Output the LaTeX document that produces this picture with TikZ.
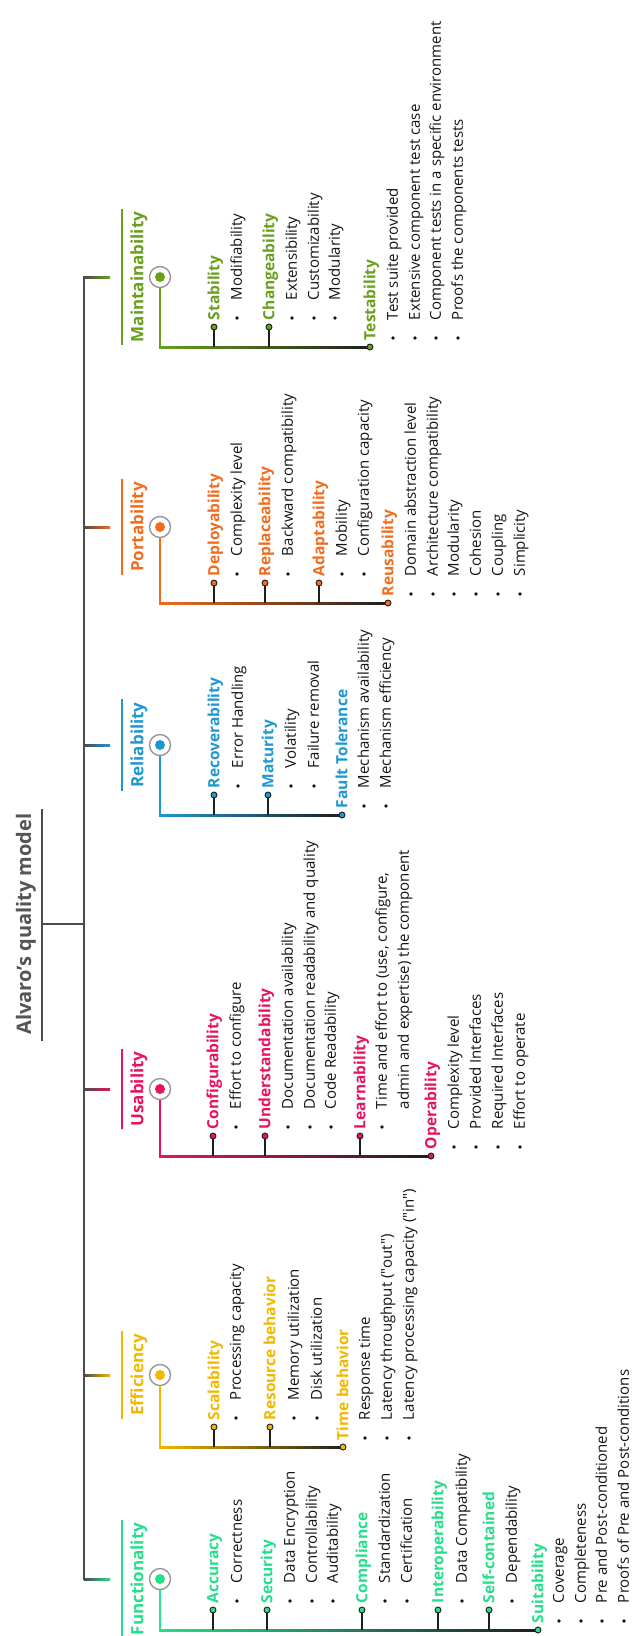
\documentclass[tikz,border=0pt]{standalone}
\usepackage{fontspec}
\setmainfont{Open Sans}
\usetikzlibrary{calc}
\definecolor{cfun}{RGB}{38,222,140}
\definecolor{ceff}{RGB}{242,184,0}
\definecolor{cusa}{RGB}{232,18,96}
\definecolor{crel}{RGB}{30,152,210}
\definecolor{cpor}{RGB}{242,108,30}
\definecolor{cmai}{RGB}{104,160,30}
\definecolor{trunkc}{RGB}{75,75,75}
\definecolor{darkc}{RGB}{30,30,30}
\definecolor{ringc}{RGB}{150,150,150}
\definecolor{titlec}{RGB}{85,85,85}
\definecolor{txtc}{RGB}{20,20,20}
\tikzset{
  rot/.style={rotate=90, inner sep=0pt, outer sep=0pt},
  maintitle/.style={rot, font=\fontsize{20}{20}\selectfont\bfseries, text=titlec, text height=14pt, text depth=2pt},
  btitle/.style={rot, font=\fontsize{17}{17}\selectfont\bfseries, text height=12pt, text depth=1.5pt},
  sublab/.style={rot, anchor=west, font=\fontsize{15.5}{15.5}\selectfont\bfseries, text height=11.5pt, text depth=1pt},
  itemtxt/.style={rot, anchor=west, font=\fontsize{15}{15}\selectfont, text=txtc, text height=10.5pt, text depth=1pt},
  ring/.style={circle, draw=ringc, line width=1.4pt, fill=white, minimum size=21pt, inner sep=0pt},
  sdot/.style={circle, draw=darkc, line width=0.9pt, minimum size=6pt, inner sep=0pt},
  stemline/.style={draw=darkc, line width=1.8pt},
  trunkline/.style={draw=trunkc, line width=2.8pt, line cap=rect},
}
\newcommand{\qd}{\textquotedbl}
% id, x, line y, color, label
\newcommand{\stemit}[5]{%
  \coordinate (#1-b) at (#2,#3);
  \node[sdot, fill=#4] (#1-d) at (#2,#3-20) {};
  \draw[stemline] (#1-b) -- (#1-d.south);
  \node[sublab, text=#4] (#1) at (#2,#3-27) {#5};
}
\newcommand{\lastit}[5]{%
  \node[sdot, fill=#4] (#1-d) at (#2,#3) {};
  \node[sublab, text=#4] (#1) at (#2,#3-7) {#5};
}
% id, x, bullet y, text
\newcommand{\bul}[4]{%
  \fill[txtc] (#2,#3) circle (1.9pt);
  \node[itemtxt] (#1) at (#2,#3-18) {#4};
}
% id, color, stub y, line y, last x, title
\newcommand{\mkbr}[6]{%
  \coordinate (#1-s0) at (84,#3);
  \coordinate (#1-s1) at (110,#3);
  \shade[left color=trunkc, right color=#2] ([yshift=1pt]#1-s0) rectangle ([yshift=-1pt]#1-s1);
  \node[btitle, text=#2] (#1-t) at (138,#3) {#6};
  \coordinate (#1-ol) at (122,0);
  \draw[#2, line width=2pt] ($(#1-t.west -| #1-ol)+(0,3)$) -- ($(#1-t.east -| #1-ol)+(0,-3)$);
  \node[ring] (#1-c) at (160,#3) {};
  \fill[#2] (#1-c) circle (5pt);
  \coordinate (#1-L0) at (160,#4);
  \coordinate (#1-L1) at (#5,#4);
  \draw[#2, line width=2pt] (#1-c.south) -- (#1-L0);
  \shade[left color=#2, right color=darkc] ([xshift=-1pt,yshift=1pt]#1-L0) rectangle ([yshift=-1pt]#1-L1);
}
\begin{document}
\begin{tikzpicture}[x=1pt, y=-1pt]
\useasboundingbox (0,0) rectangle (632,1636);
\fill[white] (0,0) rectangle (632,1636);

% title
\node[maintitle] (title) at (25,924) {Alvaro's quality model};
\coordinate (ul0) at (42,809);
\coordinate (ul1) at (42,1041);
\coordinate (ulm) at (42,924);
\coordinate (trm) at (84,924);
\draw[trunkc, line width=2.8pt] (ul0) -- (ul1);
\draw[trunkc, line width=2.8pt] (ulm) -- (trm);

% trunk
\coordinate (tr0) at (84,277);
\coordinate (tr1) at (84,1579);
\draw[trunkline] (tr0) -- (tr1);

% Maintainability
\mkbr{M}{cmai}{277}{347}{370}{Maintainability}
\stemit{M1}{214}{347}{cmai}{Stability}
\bul{M1a}{237}{318}{Modifiability}
\stemit{M2}{269}{347}{cmai}{Changeability}
\bul{M2a}{292}{318}{Extensibility}
\bul{M2b}{314}{318}{Customizability}
\bul{M2c}{335}{318}{Modularity}
\lastit{M3}{370}{347}{cmai}{Testability}
\bul{M3a}{393}{338}{Test suite provided}
\bul{M3b}{415}{338}{Extensive component test case}
\bul{M3c}{436}{338}{Component tests in a specific environment}
\bul{M3d}{458}{338}{Proofs the components tests}

% Portability
\mkbr{P}{cpor}{527}{603}{388}{Portability}
\stemit{P1}{214}{603}{cpor}{Deployability}
\bul{P1a}{237}{574}{Complexity level}
\stemit{P2}{265}{603}{cpor}{Replaceability}
\bul{P2a}{288}{574}{Backward compatibility}
\stemit{P3}{319}{603}{cpor}{Adaptability}
\bul{P3a}{342}{574}{Mobility}
\bul{P3b}{364}{574}{Configuration capacity}
\lastit{P4}{388}{603}{cpor}{Reusability}
\bul{P4a}{411}{594}{Domain abstraction level}
\bul{P4b}{433}{594}{Architecture compatibility}
\bul{P4c}{454}{594}{Modularity}
\bul{P4d}{476}{594}{Cohesion}
\bul{P4e}{498}{594}{Coupling}
\bul{P4f}{520}{594}{Simplicity}

% Reliability
\mkbr{R}{crel}{745}{815}{342}{Reliability}
\stemit{R1}{214}{815}{crel}{Recoverability}
\bul{R1a}{238}{786}{Error Handling}
\stemit{R2}{268}{815}{crel}{Maturity}
\bul{R2a}{291}{786}{Volatility}
\bul{R2b}{314}{786}{Failure removal}
\lastit{R3}{342}{815}{crel}{Fault Tolerance}
\bul{R3a}{364}{806}{Mechanism availability}
\bul{R3b}{386}{806}{Mechanism efficiency}

% Usability
\mkbr{U}{cusa}{1089}{1156}{431}{Usability}
\stemit{U1}{213}{1156}{cusa}{Configurability}
\bul{U1a}{236}{1127}{Effort to configure}
\stemit{U2}{265}{1156}{cusa}{Understandability}
\bul{U2a}{288}{1127}{Documentation availability}
\bul{U2b}{310}{1127}{Documentation readability and quality}
\bul{U2c}{331}{1127}{Code Readability}
\stemit{U3}{360}{1156}{cusa}{Learnability}
\bul{U3a}{382}{1127}{Time and effort to (use, configure,}
\node[itemtxt] (U3b) at (404,1109) {admin and expertise) the component};
\lastit{U4}{431}{1156}{cusa}{Operability}
\bul{U4a}{454}{1147}{Complexity level}
\bul{U4b}{476}{1147}{Provided Interfaces}
\bul{U4c}{498}{1147}{Required Interfaces}
\bul{U4d}{520}{1147}{Effort to operate}

% Efficiency
\mkbr{E}{ceff}{1375}{1447}{343}{Efficiency}
\stemit{E1}{214}{1447}{ceff}{Scalability}
\bul{E1a}{236}{1418}{Processing capacity}
\stemit{E2}{270}{1447}{ceff}{Resource behavior}
\bul{E2a}{294}{1418}{Memory utilization}
\bul{E2b}{317}{1418}{Disk utilization}
\lastit{E3}{343}{1447}{ceff}{Time behavior}
\bul{E3a}{365}{1438}{Response time}
\bul{E3b}{387}{1438}{Latency throughput (\qd out\qd)}
\bul{E3c}{409}{1438}{Latency processing capacity (\qd in\qd)}

% Functionality
\mkbr{F}{cfun}{1579}{1630}{538}{Functionality}
\stemit{F1}{213}{1630}{cfun}{Accuracy}
\bul{F1a}{237}{1601}{Correctness}
\stemit{F2}{267}{1630}{cfun}{Security}
\bul{F2a}{290}{1601}{Data Encryption}
\bul{F2b}{312}{1601}{Controllability}
\bul{F2c}{333}{1601}{Auditability}
\stemit{F3}{362}{1630}{cfun}{Compliance}
\bul{F3a}{385}{1601}{Standardization}
\bul{F3b}{407}{1601}{Certification}
\stemit{F4}{438}{1630}{cfun}{Interoperability}
\bul{F4a}{462}{1601}{Data Compatibility}
\stemit{F5}{489}{1630}{cfun}{Self-contained}
\bul{F5a}{512}{1601}{Dependability}
\lastit{F6}{538}{1630}{cfun}{Suitability}
\bul{F6a}{559}{1621}{Coverage}
\bul{F6b}{581}{1621}{Completeness}
\bul{F6c}{602}{1621}{Pre and Post-conditioned}
\bul{F6d}{624}{1621}{Proofs of Pre and Post-conditions}
\end{tikzpicture}
\end{document}
